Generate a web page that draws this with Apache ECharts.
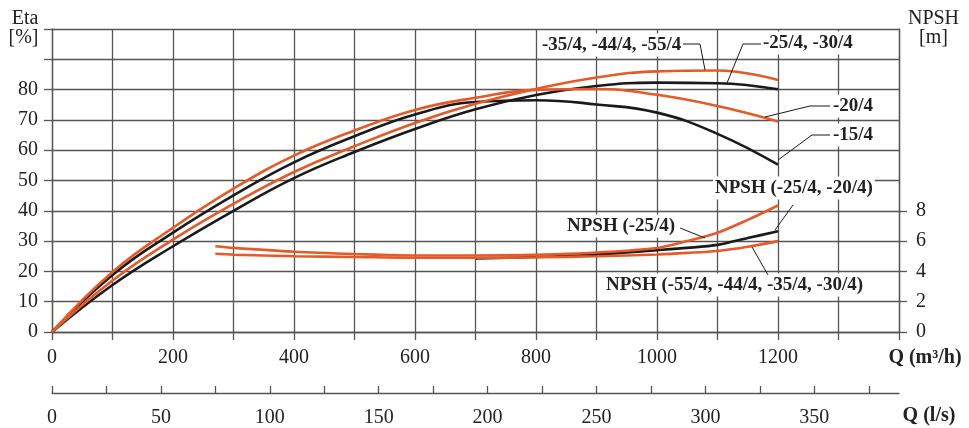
<!DOCTYPE html>
<html>
<head>
<meta charset="utf-8">
<script src="https://cdn.jsdelivr.net/npm/echarts@6/dist/echarts.min.js"></script>
<style>
html,body{margin:0;padding:0;background:#fff;}
#chart{width:969px;height:428px;}
</style>
</head>
<body>
<div id="chart"></div>
<script>
// ---- data ----
const qEff = [0, 100, 200, 300, 400, 500, 600, 700, 800, 900, 1000, 1100, 1200];
const etaA = [0, 17.0, 30.5, 42.3, 52.8, 61.3, 69.0, 75.3, 80.2, 84.0, 86.0, 86.3, 83.2]; // -35/4, -44/4, -55/4
const etaB = [0, 15.5, 28.3, 40.0, 50.8, 59.4, 67.0, 73.5, 78.2, 81.2, 82.3, 82.1, 80.1]; // -25/4, -30/4
const etaC = [0, 19.8, 34.4, 47.3, 58.2, 66.5, 73.3, 77.3, 79.9, 80.2, 78.3, 74.6, 69.5]; // -20/4
const etaD = [0, 18.8, 32.8, 45.1, 56.0, 64.6, 71.8, 75.9, 76.5, 75.1, 72.4, 65.4, 55.2]; // -15/4

const qNpshOrange = [270, 300, 400, 500, 600, 700, 800, 900, 1000, 1050, 1100, 1150, 1200];
const npshHigh = [5.66, 5.55, 5.3, 5.15, 5.05, 5.05, 5.1, 5.25, 5.55, 6.0, 6.55, 7.4, 8.35];   // NPSH (-25/4)
const npshLow  = [5.16, 5.1, 5.0, 4.95, 4.9, 4.9, 4.93, 5.0, 5.12, 5.22, 5.35, 5.63, 6.0];    // NPSH (-55/4, -44/4, -35/4, -30/4)
const qNpshBlack = [700, 800, 900, 1000, 1050, 1100, 1150, 1200];
const npshMid  = [4.85, 4.95, 5.12, 5.4, 5.55, 5.75, 6.2, 6.65];                              // NPSH (-25/4, -20/4)

const qTicks = [0, 200, 400, 600, 800, 1000, 1200];
const etaTicks = [0, 10, 20, 30, 40, 50, 60, 70, 80];
const npshTicks = [0, 2, 4, 6, 8];
const lsTicks = [0, 50, 100, 150, 200, 250, 300, 350];
const lsMinorTicks = [0, 25, 50, 75, 100, 125, 150, 175, 200, 225, 250, 275, 300, 325, 350, 375];

// ---- styles ----
const F = "'Liberation Serif', 'Times New Roman', serif";
const G = '#555';
const ORANGE = '#E65A28';
const BLACK = '#1a1a1a';
const TXT = '#222';
const plainNum = v => String(v);

function pairs(xs, ys) { return xs.map((x, i) => [x, ys[i]]); }

function curve(name, xs, ys, color, yIdx, sm) {
  return {
    name: name, type: 'line', xAxisIndex: 0, yAxisIndex: yIdx,
    data: pairs(xs, ys), smooth: sm, showSymbol: false, symbol: 'none',
    lineStyle: { color: color, width: 2.6 }, z: color === ORANGE ? 3 : 2,
    silent: true
  };
}

const chart = echarts.init(document.getElementById('chart'), null, { renderer: 'canvas' });

function label(text, x, y) {
  return {
    type: 'text', x: x - 2, y: y, z: 10,
    style: {
      text: text, fill: TXT, font: 'bold 19px ' + F,
      verticalAlign: 'middle', align: 'left',
      backgroundColor: '#fff', padding: [2, 2, 2, 2]
    }
  };
}
function leader(points) {
  return {
    type: 'polyline', z: 11,
    shape: { points: points },
    style: { stroke: BLACK, lineWidth: 1, fill: null }
  };
}
function plain(text, x, y, align, bold) {
  return {
    type: 'text', x: x, y: y, z: 10,
    style: {
      text: text, fill: TXT, font: (bold ? 'bold ' : '') + '20px ' + F,
      verticalAlign: 'middle', align: align
    }
  };
}

const option = {
  animation: false,
  backgroundColor: '#fff',
  textStyle: { fontFamily: F },
  grid: { left: 52, right: 70, top: 29, height: 304, containLabel: false },
  xAxis: [
    {
      type: 'value', min: 0, max: 1400, interval: 100, position: 'bottom',
      axisLine: { show: true, onZero: false, lineStyle: { color: G, width: 1.3 } },
      axisTick: { show: true, length: 8, lineStyle: { color: G, width: 1.3 } },
      axisLabel: { customValues: qTicks, formatter: plainNum, fontSize: 20, color: TXT, margin: 16, fontFamily: F },
      splitLine: { show: true, lineStyle: { color: G, width: 1.3 } }
    },
    {
      type: 'value', min: 0, max: 1400 / 3.6, interval: 25, position: 'bottom', offset: 61,
      axisLine: { show: true, onZero: false, lineStyle: { color: G, width: 1.3 } },
      axisTick: { show: true, inside: true, length: 7, customValues: lsMinorTicks, lineStyle: { color: G, width: 1.3 } },
      axisLabel: { customValues: lsTicks, formatter: plainNum, fontSize: 20, color: TXT, margin: 15, fontFamily: F },
      splitLine: { show: false }
    }
  ],
  yAxis: [
    {
      type: 'value', min: 0, max: 100, interval: 10, position: 'left',
      axisLine: { show: true, onZero: false, lineStyle: { color: G, width: 1.3 } },
      axisTick: { show: true, length: 8, lineStyle: { color: G, width: 1.3 } },
      axisLabel: { customValues: etaTicks, formatter: plainNum, fontSize: 20, color: TXT, margin: 14, fontFamily: F },
      splitLine: { show: true, lineStyle: { color: G, width: 1.3 } }
    },
    {
      type: 'value', min: 0, max: 20, interval: 2, position: 'right',
      axisLine: { show: true, onZero: false, lineStyle: { color: G, width: 1.3 } },
      axisTick: { show: true, length: 8, customValues: npshTicks, lineStyle: { color: G, width: 1.3 } },
      axisLabel: { customValues: npshTicks, formatter: plainNum, fontSize: 20, color: TXT, margin: 17, fontFamily: F },
      splitLine: { show: false }
    }
  ],
  series: [
    curve('-25/4, -30/4', qEff, etaB, BLACK, 0, 0.45),
    curve('-15/4', qEff, etaD, BLACK, 0, 0.45),
    curve('-35/4, -44/4, -55/4', qEff, etaA, ORANGE, 0, 0.45),
    curve('-20/4', qEff, etaC, ORANGE, 0, 0.45),
    curve('NPSH (-25/4, -20/4)', qNpshBlack, npshMid, BLACK, 1, 0.3),
    curve('NPSH (-25/4)', qNpshOrange, npshHigh, ORANGE, 1, 0.3),
    curve('NPSH (-55/4, -44/4, -35/4, -30/4)', qNpshOrange, npshLow, ORANGE, 1, 0.3)
  ],
  graphic: [
    plain('Eta', 38.5, 19, 'right', false),
    plain('[%]', 38.5, 38, 'right', false),
    plain('NPSH', 933.5, 19, 'center', false),
    plain('[m]', 933.5, 38, 'center', false),
    plain('Q (m\u00B3/h)', 925, 358, 'center', true),
    plain('Q (l/s)', 929, 416, 'center', true),

    label('-35/4, -44/4, -55/4', 542, 45),
    leader([[683, 44], [700, 44], [705, 70]]),
    label('-25/4, -30/4', 763, 43),
    leader([[761, 44], [743, 44], [727, 83]]),
    label('-20/4', 833, 106),
    leader([[830, 106], [810, 106], [765, 117]]),
    label('-15/4', 833, 135),
    leader([[830, 135], [812, 135], [778, 160]]),
    label('NPSH (-25/4, -20/4)', 715, 188),
    leader([[793, 205], [775, 230]]),
    label('NPSH (-25/4)', 567, 226),
    leader([[680, 228], [705, 238]]),
    label('NPSH (-55/4, -44/4, -35/4, -30/4)', 606, 285),
    leader([[768, 275], [752, 247]])
  ]
};
chart.setOption(option);
</script>
</body>
</html>
